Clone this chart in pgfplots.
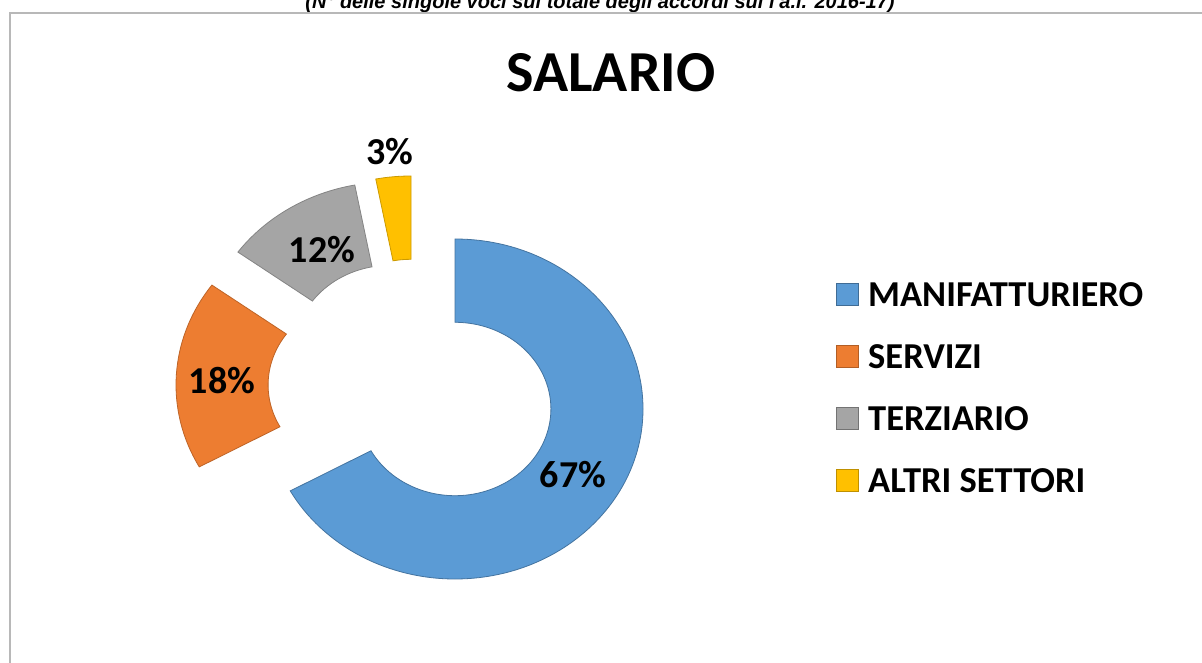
\documentclass[border=0pt]{standalone}
\usepackage{pgfplots}
\pgfplotsset{compat=1.18}
\usepackage{fontspec}
\setmainfont{Carlito}
\newfontfamily\subfont{Liberation Sans}
\definecolor{cBlue}{HTML}{5B9BD5}
\definecolor{cOrange}{HTML}{ED7D31}
\definecolor{cGray}{HTML}{A5A5A5}
\definecolor{cYellow}{HTML}{FFC000}
% sector: #1 cumulative start (%), #2 cumulative end (%), #3 dx, #4 dy, #5 style
\newcommand\sector[5]{%
  \filldraw[#5] (axis cs:{455+#3+188*cos(90-3.6*#1)},{253+#4+170*sin(90-3.6*#1)})
    arc[start angle={90-3.6*#1}, end angle={90-3.6*#2}, x radius=188pt, y radius=170pt]
    -- (axis cs:{455+#3+95.9*cos(90-3.6*#2)},{253+#4+86.7*sin(90-3.6*#2)})
    arc[start angle={90-3.6*#2}, end angle={90-3.6*#1}, x radius=95.9pt, y radius=86.7pt]
    -- cycle;}
\begin{document}
\begin{tikzpicture}
\path[use as bounding box] (0,0) rectangle (1202pt,662pt);
\fill[white] (0,0) rectangle (1202pt,662pt);
\begin{scope}
\clip (0,0) rectangle (1202pt,662pt);
\node[anchor=base, font=\subfont\bfseries\itshape\fontsize{20}{24}\selectfont] at (600pt,653pt)
  {(N° delle singole voci sul totale degli accordi sul l'a.i. 2016-17)};
\draw[black!28, line width=1.5pt] (10pt,-5pt) -- (10pt,649pt) -- (1210pt,649pt);
\end{scope}
\begin{axis}[
  at={(0pt,0pt)}, anchor=south west,
  x=1pt, y=1pt, xmin=0, xmax=1202, ymin=0, ymax=662,
  hide axis, clip=false,
  legend image code/.code={\draw[#1, line width=1pt] (0pt,-11pt) rectangle (22pt,11pt);},
  legend style={at={(0.6955,0.4154)}, anchor=west, draw=none, fill=none, inner sep=0pt,
    font=\bfseries\fontsize{36.5}{40}\selectfont,
    nodes={inner sep=0pt, text height=24pt, text depth=0pt},
    row sep=38pt, /tikz/column sep=9pt},
  legend cell align=left,
]
\addlegendimage{fill=cBlue, draw=cBlue!70!black}
\addlegendentry{MANIFATTURIERO}
\addlegendimage{fill=cOrange, draw=cOrange!75!black}
\addlegendentry{SERVIZI}
\addlegendimage{fill=cGray, draw=cGray!70!black}
\addlegendentry{TERZIARIO}
\addlegendimage{fill=cYellow, draw=cYellow!75!black}
\addlegendentry{ALTRI SETTORI}
% values: MANIFATTURIERO 67, SERVIZI 18, TERZIARIO 12, ALTRI SETTORI 3
\sector{0}{67}{0}{0}{fill=cBlue, draw=cBlue!75!black, line width=0.8pt}
\sector{67}{85}{-91}{24}{fill=cOrange, draw=cOrange!80!black, line width=0.8pt}
\sector{85}{97}{-65}{57}{fill=cGray, draw=cGray!80!black, line width=0.8pt}
\sector{97}{100}{-44}{63}{fill=cYellow, draw=cYellow!80!black, line width=0.8pt}
\node[font=\bfseries\fontsize{38}{40}\selectfont] at (axis cs:573,187) {67\%};
\node[font=\bfseries\fontsize{38}{40}\selectfont] at (axis cs:222,281) {18\%};
\node[font=\bfseries\fontsize{38}{40}\selectfont] at (axis cs:322,412) {12\%};
\node[font=\bfseries\fontsize{38}{40}\selectfont] at (axis cs:390,510) {3\%};
\node[font=\bfseries\fontsize{58}{62}\selectfont] at (axis cs:611,589) {SALARIO};
\end{axis}
\end{tikzpicture}
\end{document}
